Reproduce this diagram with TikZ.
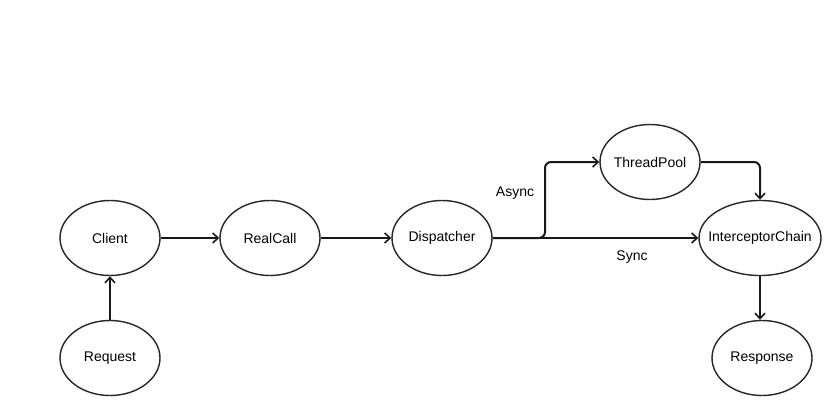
\documentclass[tikz,border=0pt]{standalone}
\usepackage{fontspec}
\setmainfont{Liberation Sans}
\usetikzlibrary{arrows.meta,shapes.geometric}
\begin{document}
\begin{tikzpicture}[x=1pt,y=-1pt,
  ell/.style={draw=black!85,line width=1.4pt,ellipse,minimum width=100pt,minimum height=75pt,inner xsep=-10pt,inner ysep=0pt,font=\fontsize{14}{16}\selectfont},
  conn/.style={draw=black!90,line width=2pt,-{Straight Barb[length=5.5pt,width=10pt,line width=1.6pt]}},
  lbl/.style={font=\fontsize{14}{16}\selectfont}]
\useasboundingbox (0,0) rectangle (840,415);
\node[ell] (client) at (110,238) {Client};
\node[ell] (realcall) at (270,238) {RealCall};
\node[ell] (disp) at (442,238) {Dispatcher};
\node[ell] (pool) at (650,162) {ThreadPool};
\node[ell,minimum width=122pt] (chain) at (760,238) {InterceptorChain};
\node[ell] (req) at (110,358) {Request};
\node[ell] (resp) at (762,358) {Response};
\coordinate (a1) at (545,238);
\coordinate (a2) at (545,162);
\coordinate (t1) at (760,162);
\draw[conn] (client) -- (realcall);
\draw[conn] (realcall) -- (disp);
\draw[conn] (disp) -- (chain);
\draw[conn,rounded corners=6pt] (disp.east) -- (a1) -- (a2) -- (pool);
\draw[conn,rounded corners=6pt] (pool.east) -- (t1) -- (chain.north);
\draw[conn] (req) -- (client);
\draw[conn] (chain.south) -- (resp.north -| chain.south);
\node[lbl] (async) at (515,193) {Async};
\node[lbl] (sync) at (632,257) {Sync};
\end{tikzpicture}
\end{document}
